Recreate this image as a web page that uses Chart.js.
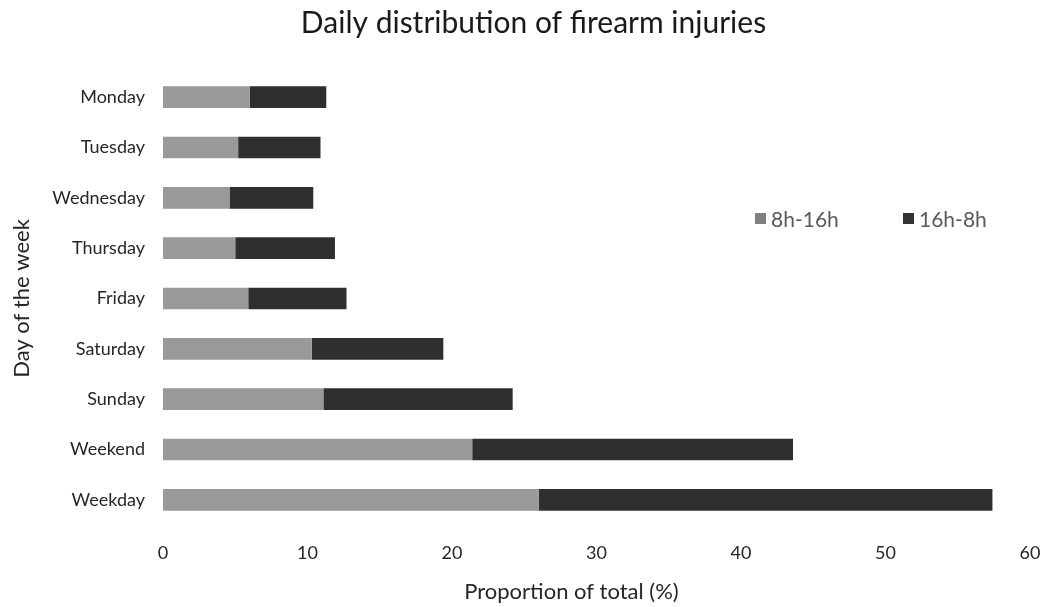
<!DOCTYPE html>
<html>
<head>
<meta charset="utf-8">
<script src="https://cdn.jsdelivr.net/npm/chart.js@4.4.0/dist/chart.umd.min.js"></script>
<style>
  body { margin: 0; background: #ffffff; }
  #wrap { position: relative; width: 1045px; height: 607px; }
  #legend { position: absolute; top: 206px; left: 755px; font-family: Lato, 'Open Sans', sans-serif; font-size: 21px; color: #595959; }
  #legend span.item { position: absolute; top: 0; display: flex; align-items: center; white-space: nowrap; }
  #legend span.box { display: inline-block; width: 11px; height: 11px; margin-right: 5px; }
</style>
</head>
<body>
<div id="wrap">
  <canvas id="myChart" width="1045" height="607"></canvas>
  <div id="legend"></div>
</div>
<script>
const days = ['Monday', 'Tuesday', 'Wednesday', 'Thursday', 'Friday', 'Saturday', 'Sunday', 'Weekend', 'Weekday'];
const dayShift = [6.0, 5.2, 4.6, 5.0, 5.9, 10.3, 11.1, 21.4, 26.0];
const nightShift = [5.3, 5.7, 5.8, 6.9, 6.8, 9.1, 13.1, 22.2, 31.4];
const xTicks = [0, 10, 20, 30, 40, 50, 60];

const fontFamily = "Lato, 'Open Sans', sans-serif";
const ctx = document.getElementById('myChart').getContext('2d');

// chart title and x axis title are not centred on the plot in the original,
// so draw them here with small offsets
const titlesPlugin = {
    id: 'titles',
    afterDraw(chart) {
        const c = chart.ctx;
        const area = chart.chartArea;
        const mid = (area.left + area.right) / 2;
        c.save();
        c.textAlign = 'center';
        c.textBaseline = 'middle';
        c.fillStyle = '#1a1a1a';
        c.font = '30px ' + fontFamily;
        c.fillText('Daily distribution of firearm injuries', mid - 63, 23);
        c.fillStyle = '#262626';
        c.font = '22px ' + fontFamily;
        c.fillText('Proportion of total (%)', mid - 25, chart.height - 15);
        c.restore();
    }
};

const myChart = new Chart(ctx, {
    type: 'bar',
    data: {
        labels: days,
        datasets: [
            {
                label: '8h-16h',
                data: dayShift,
                backgroundColor: '#999999',
                legendColor: '#808080',
                categoryPercentage: 1,
                barPercentage: 0.43
            },
            {
                label: '16h-8h',
                data: nightShift,
                backgroundColor: '#2f2f2f',
                legendColor: '#333333',
                categoryPercentage: 1,
                barPercentage: 0.43
            }
        ]
    },
    options: {
        indexAxis: 'y',
        responsive: false,
        animation: false,
        layout: {
            padding: { left: 9, right: 15, top: 72, bottom: 0 }
        },
        plugins: {
            title: { display: false },
            legend: { display: false },
            tooltip: { enabled: false }
        },
        scales: {
            x: {
                stacked: true,
                min: 0,
                max: 60,
                grid: { display: false, drawTicks: false },
                border: { display: false },
                afterBuildTicks: (scale) => {
                    scale.ticks = xTicks.map(v => ({ value: v }));
                },
                afterFit: (scale) => {
                    scale.height = 82;
                    scale.paddingRight = 0;
                    scale.paddingLeft = 0;
                },
                ticks: {
                    color: '#262626',
                    padding: 17,
                    maxRotation: 0,
                    font: { size: 18, family: fontFamily }
                },
                title: { display: false }
            },
            y: {
                stacked: true,
                grid: { display: false, drawTicks: false },
                border: { display: false },
                afterFit: (scale) => {
                    scale.width = 154;
                    scale.paddingTop = 0;
                },
                ticks: {
                    color: '#262626',
                    padding: 18,
                    font: { size: 18, family: fontFamily }
                },
                title: {
                    display: true,
                    text: 'Day of the week',
                    color: '#262626',
                    padding: 0,
                    font: { size: 22, family: fontFamily }
                }
            }
        }
    },
    plugins: [titlesPlugin]
});

// legend placed inside the plot area, like the original
const legendEl = document.getElementById('legend');
const legendOffsets = [0, 148];
myChart.data.datasets.forEach((ds, i) => {
    const item = document.createElement('span');
    item.className = 'item';
    item.style.left = legendOffsets[i] + 'px';
    const box = document.createElement('span');
    box.className = 'box';
    box.style.background = ds.legendColor;
    item.appendChild(box);
    item.appendChild(document.createTextNode(ds.label));
    legendEl.appendChild(item);
});
</script>
</body>
</html>
